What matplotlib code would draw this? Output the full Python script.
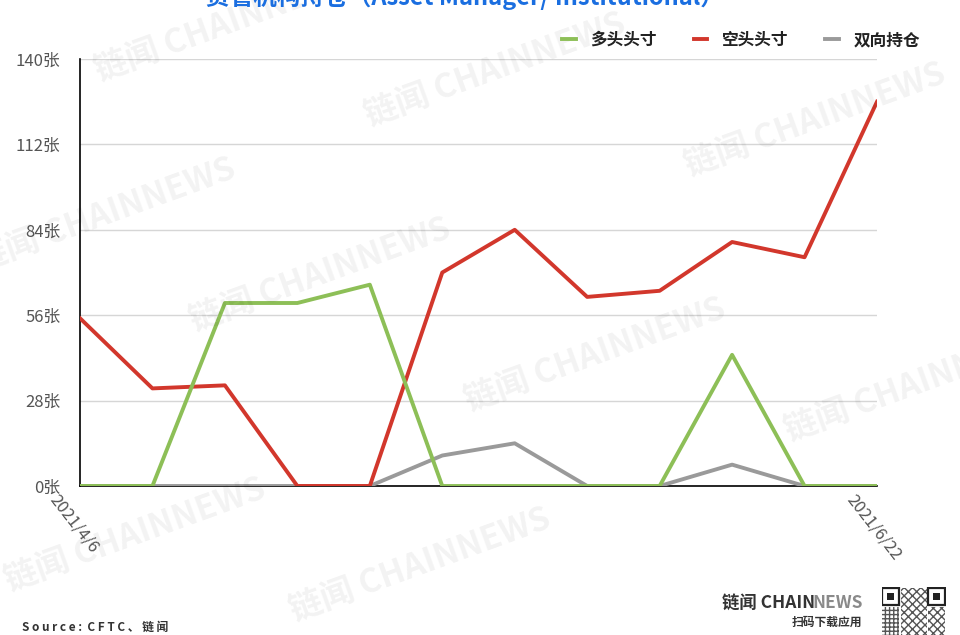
import matplotlib
matplotlib.use('Agg')
import matplotlib.pyplot as plt
import matplotlib.transforms as mtransforms
from matplotlib.patches import Rectangle

plt.rcParams['font.family'] = ['Noto Sans CJK SC', 'DejaVu Sans']

# data (units: 张)
dates = ['2021/4/6', '2021/4/13', '2021/4/20', '2021/4/27', '2021/5/4', '2021/5/11',
         '2021/5/18', '2021/5/25', '2021/6/1', '2021/6/8', '2021/6/15', '2021/6/22']
long_pos = [0, 0, 60, 60, 66, 0, 0, 0, 0, 43, 0, 0]
short_pos = [55, 32, 33, 0, 0, 70, 84, 62, 64, 80, 75, 126]
spread_pos = [0, 0, 0, 0, 0, 10, 14, 0, 0, 7, 0, 0]
yticks = [0, 28, 56, 84, 112, 140]

green = '#8dbf57'
red = '#d2372c'
grey = '#9a9a9a'

fig = plt.figure(figsize=(9.6, 6.35), dpi=100)
ax = fig.add_axes([80/960, 1-486/635, 797/960, 427/635])

x = list(range(len(dates)))
ax.plot(x, spread_pos, color=grey, lw=2.8, zorder=3, label='双向持仓')
ax.plot(x, short_pos, color=red, lw=2.8, zorder=4, label='空头头寸')
ax.plot(x, long_pos, color=green, lw=2.8, zorder=5, label='多头头寸')

ax.set_xlim(0, len(dates) - 1)
ax.set_ylim(0, 140)
ax.set_yticks(yticks)
ax.set_yticklabels(['%d张' % v for v in yticks], color='#555555', fontsize=12)
ax.tick_params(axis='y', length=0, pad=14)
ax.set_xticks([0, len(dates) - 1])
ax.set_xticklabels([dates[0], dates[-1]], rotation=-52, ha='left', va='center',
                   rotation_mode='anchor', color='#555555', fontsize=12)
ax.tick_params(axis='x', length=0, pad=6)
off = mtransforms.ScaledTranslation(-27/100, -2/100, fig.dpi_scale_trans)
for lab in ax.get_xticklabels():
    lab.set_transform(lab.get_transform() + off)

ax.grid(axis='y', color='#d6d6d6', lw=1)
ax.set_axisbelow(True)
for s in ['top', 'right']:
    ax.spines[s].set_visible(False)
ax.spines['left'].set_color('black')
ax.spines['left'].set_linewidth(1.2)
ax.spines['bottom'].set_color('black')
ax.spines['bottom'].set_linewidth(1.2)

# legend in the original order
h, l = ax.get_legend_handles_labels()
leg = fig.legend(h[::-1], l[::-1], loc='center right', bbox_to_anchor=(935/960, 1-40/635),
                 ncol=3, frameon=False, fontsize=12, handlelength=0.8, columnspacing=2.2,
                 handletextpad=0.9)
for t in leg.get_texts():
    t.set_color('#222222')
    t.set_fontweight('bold')

# title, cut off at the top edge
fig.text(465/960, 1-10/635, '资管机构持仓（Asset Manager/ Institutional）', ha='center',
         va='bottom', fontsize=17, fontweight='bold', color='#1a6ee0')

# watermarks
wm = [(90, 80), (360, 125), (680, 175), (-30, 270), (185, 330), (460, 410),
      (780, 440), (0, 590), (285, 620)]
for wx, wy in wm:
    fig.text(wx/960, 1-wy/635, '链闻 CHAINNEWS', rotation=20, fontsize=24,
             fontweight='bold', color='#000000', alpha=0.05, zorder=0)

# footer
fig.text(22/960, 1-631/635, 'S o u r c e :  C F T C 、 链 闻', fontsize=8.5,
         color='#333333', fontweight='bold', va='baseline')
fig.text(722/960, 1-608/635, '链闻 CHAIN', fontsize=12.5, fontweight='bold',
         color='#333333', va='baseline')
fig.text(812/960, 1-608/635, 'NEWS', fontsize=12.5, fontweight='bold',
         color='#8a8a8a', va='baseline')
fig.text(862/960, 1-626/635, '扫码下载应用', fontsize=8.5, fontweight='bold',
         color='#333333', va='baseline', ha='right')

# qr-like badge
qax = fig.add_axes([882/960, 0, 64/960, 48/635])
qax.set_xlim(0, 10)
qax.set_ylim(0, 7.5)
qax.axis('off')
for fx, fy in [(0, 4.7), (7.2, 4.7)]:
    qax.add_patch(Rectangle((fx, fy), 2.6, 2.6, fc='none', ec='#222222', lw=1.6))
    qax.add_patch(Rectangle((fx + 0.8, fy + 0.8), 1.0, 1.0, fc='#222222'))
qax.add_patch(Rectangle((2.9, 0), 4.1, 7.3, fc='none', ec='#555555', hatch='xxxx', lw=0))
qax.add_patch(Rectangle((0, 0), 2.7, 4.4, fc='none', ec='#555555', hatch='++++', lw=0))
qax.add_patch(Rectangle((7.2, 0), 2.6, 4.4, fc='none', ec='#555555', hatch='xxxx', lw=0))

fig.savefig('out.png', dpi=100)
